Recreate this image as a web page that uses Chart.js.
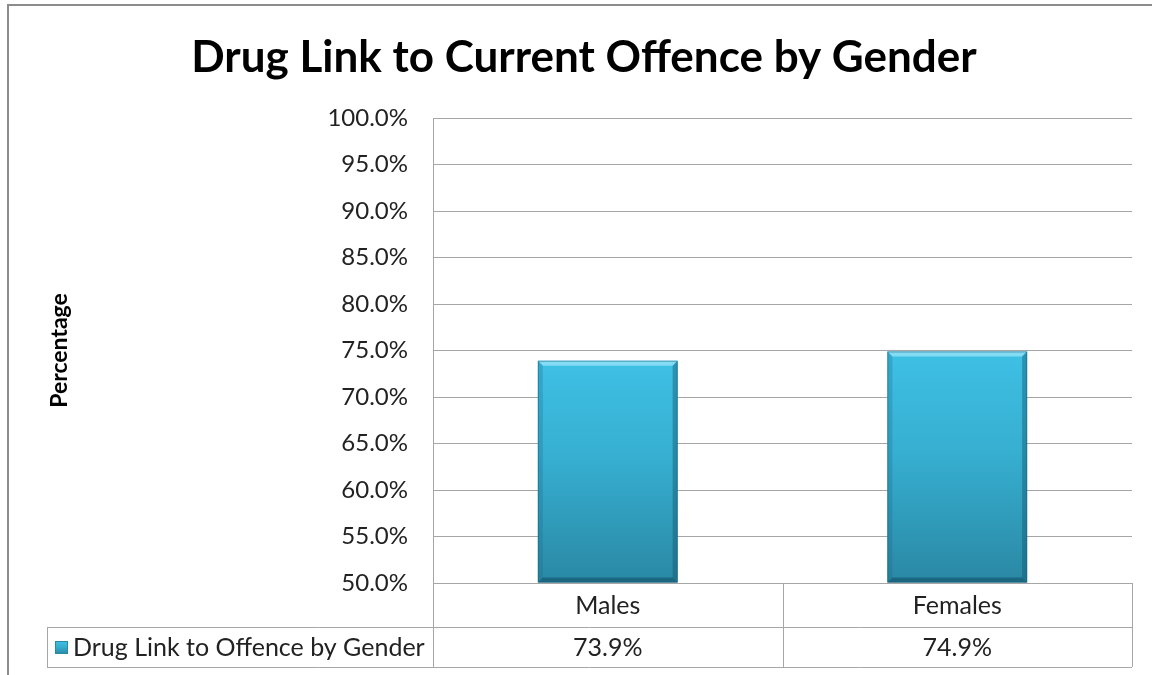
<!DOCTYPE html>
<html>
<head>
<meta charset="utf-8">
<script src="https://cdn.jsdelivr.net/npm/chart.js@4.4.1/dist/chart.umd.min.js"></script>
<style>
  html, body { margin: 0; padding: 0; background: #fff; }
  #wrap { width: 1152px; height: 675px; }
</style>
</head>
<body>
<div id="wrap"><canvas id="myChart" width="1152" height="675"></canvas></div>
<script>
// chart data
const chartTitle = "Drug Link to Current Offence by Gender";
const seriesName = "Drug Link to Offence by Gender";
const categories = ["Males", "Females"];
const values = [73.9, 74.9];
const yMin = 50;
const yMax = 100;
const yStep = 5;

const FONT = "Lato, 'Open Sans', sans-serif";
const lineColor = "#a6a6a6";

function faceGradient(ctx, top, bottom) {
    const g = ctx.createLinearGradient(0, top, 0, bottom);
    g.addColorStop(0, "#3ec0e5");
    g.addColorStop(0.45, "#36aed0");
    g.addColorStop(1, "#2a88a4");
    return g;
}

// frame + title
const framePlugin = {
    id: "frame",
    beforeDraw(chart) {
        const ctx = chart.ctx;
        ctx.save();
        ctx.strokeStyle = "#8c8c8c";
        ctx.lineWidth = 2;
        ctx.beginPath();
        ctx.moveTo(8, 675);
        ctx.lineTo(8, 5);
        ctx.lineTo(1152, 5);
        ctx.stroke();

        ctx.fillStyle = "#000";
        ctx.font = "bold 44px " + FONT;
        ctx.textAlign = "center";
        ctx.textBaseline = "middle";
        ctx.fillText(chartTitle, 584, 58);
        ctx.restore();
    }
};

// bevel on bars
const bevelPlugin = {
    id: "bevel",
    afterDatasetsDraw(chart) {
        const ctx = chart.ctx;
        const meta = chart.getDatasetMeta(0);
        const b = 5;
        ctx.save();
        meta.data.forEach(bar => {
            const l = bar.x - bar.width / 2, r = bar.x + bar.width / 2;
            const t = bar.y, btm = bar.base;
            // top facet
            ctx.fillStyle = "rgba(140,222,245,0.9)";
            ctx.beginPath();
            ctx.moveTo(l, t); ctx.lineTo(r, t); ctx.lineTo(r - b, t + b); ctx.lineTo(l + b, t + b); ctx.closePath();
            ctx.fill();
            // left facet
            ctx.fillStyle = "rgba(20,100,130,0.25)";
            ctx.beginPath();
            ctx.moveTo(l, t); ctx.lineTo(l + b, t + b); ctx.lineTo(l + b, btm - b); ctx.lineTo(l, btm); ctx.closePath();
            ctx.fill();
            // right facet
            ctx.fillStyle = "rgba(15,80,105,0.4)";
            ctx.beginPath();
            ctx.moveTo(r, t); ctx.lineTo(r - b, t + b); ctx.lineTo(r - b, btm - b); ctx.lineTo(r, btm); ctx.closePath();
            ctx.fill();
            // bottom facet
            ctx.fillStyle = "rgba(15,75,100,0.55)";
            ctx.beginPath();
            ctx.moveTo(l, btm); ctx.lineTo(l + b, btm - b); ctx.lineTo(r - b, btm - b); ctx.lineTo(r, btm); ctx.closePath();
            ctx.fill();
            ctx.strokeStyle = "rgba(30,100,125,0.55)";
            ctx.lineWidth = 1;
            ctx.strokeRect(l + 0.5, t + 0.5, bar.width - 1, btm - t - 1);
        });
        ctx.restore();
    }
};

// data table under the plot
const tablePlugin = {
    id: "dataTable",
    afterDraw(chart) {
        const ctx = chart.ctx;
        const area = chart.chartArea;
        const x = chart.scales.x;
        const row1 = area.bottom, row2 = area.bottom + 44, row3 = area.bottom + 84;
        const tableLeft = 47;
        const colW = (area.right - area.left) / categories.length;

        ctx.save();
        ctx.strokeStyle = lineColor;
        ctx.lineWidth = 1;
        ctx.beginPath();
        ctx.moveTo(area.left, row1 + 0.5); ctx.lineTo(area.right, row1 + 0.5);
        ctx.moveTo(tableLeft, row2 + 0.5); ctx.lineTo(area.right, row2 + 0.5);
        ctx.moveTo(tableLeft, row3 + 0.5); ctx.lineTo(area.right, row3 + 0.5);
        ctx.moveTo(tableLeft + 0.5, row2); ctx.lineTo(tableLeft + 0.5, row3);
        for (let i = 0; i <= categories.length; i++) {
            const cx = Math.round(area.left + i * colW) + 0.5;
            ctx.moveTo(cx, row1); ctx.lineTo(cx, row3);
        }
        ctx.stroke();

        ctx.fillStyle = "#222";
        ctx.font = "25px " + FONT;
        ctx.textBaseline = "middle";
        ctx.textAlign = "center";
        categories.forEach((c, i) => {
            const cx = x.getPixelForValue(i);
            ctx.fillText(c, cx, (row1 + row2) / 2 + 1);
            ctx.fillText(values[i].toFixed(1) + "%", cx, (row2 + row3) / 2 + 1);
        });

        // legend key
        const kx = 55, ky = (row2 + row3) / 2 - 6;
        ctx.fillStyle = faceGradient(ctx, ky, ky + 13);
        ctx.fillRect(kx, ky, 13, 13);
        ctx.strokeStyle = "#2a8aa6";
        ctx.strokeRect(kx + 0.5, ky + 0.5, 12, 12);
        ctx.fillStyle = "#222";
        ctx.textAlign = "left";
        ctx.fillText(seriesName, kx + 18, (row2 + row3) / 2 + 1);
        ctx.restore();
    }
};

const ctx = document.getElementById("myChart").getContext("2d");
const myChart = new Chart(ctx, {
    type: "bar",
    data: {
        labels: categories,
        datasets: [{
            label: seriesName,
            data: values,
            base: yMin,
            backgroundColor: (c) => {
                const ys = c.chart.scales.y;
                if (!ys || !c.chart.chartArea || c.raw === undefined) return "#35a9cb";
                const top = ys.getPixelForValue(c.raw);
                const bottom = ys.getPixelForValue(yMin);
                if (!isFinite(top) || !isFinite(bottom)) return "#35a9cb";
                return faceGradient(c.chart.ctx, top, bottom);
            },
            borderWidth: 0,
            barPercentage: 0.4,
            categoryPercentage: 1.0
        }]
    },
    options: {
        responsive: false,
        animation: false,
        layout: { padding: { top: 118, bottom: 92, right: 20, left: 0 } },
        plugins: {
            legend: { display: false },
            title: { display: false },
            tooltip: { enabled: false }
        },
        scales: {
            x: {
                display: false,
                grid: { display: false }
            },
            y: {
                min: yMin,
                max: yMax,
                afterFit(scale) { scale.width = 433; },
                ticks: {
                    stepSize: yStep,
                    padding: 25,
                    color: "#222",
                    font: { family: FONT, size: 24 },
                    callback: (v) => v.toFixed(1) + "%"
                },
                grid: { color: lineColor, drawTicks: false },
                border: { display: true, color: lineColor },
                title: {
                    display: true,
                    text: "Percentage",
                    color: "#000",
                    font: { family: FONT, size: 23, weight: "bold" },
                    padding: { top: 46, bottom: 0 }
                }
            }
        }
    },
    plugins: [framePlugin, bevelPlugin, tablePlugin]
});
</script>
</body>
</html>
